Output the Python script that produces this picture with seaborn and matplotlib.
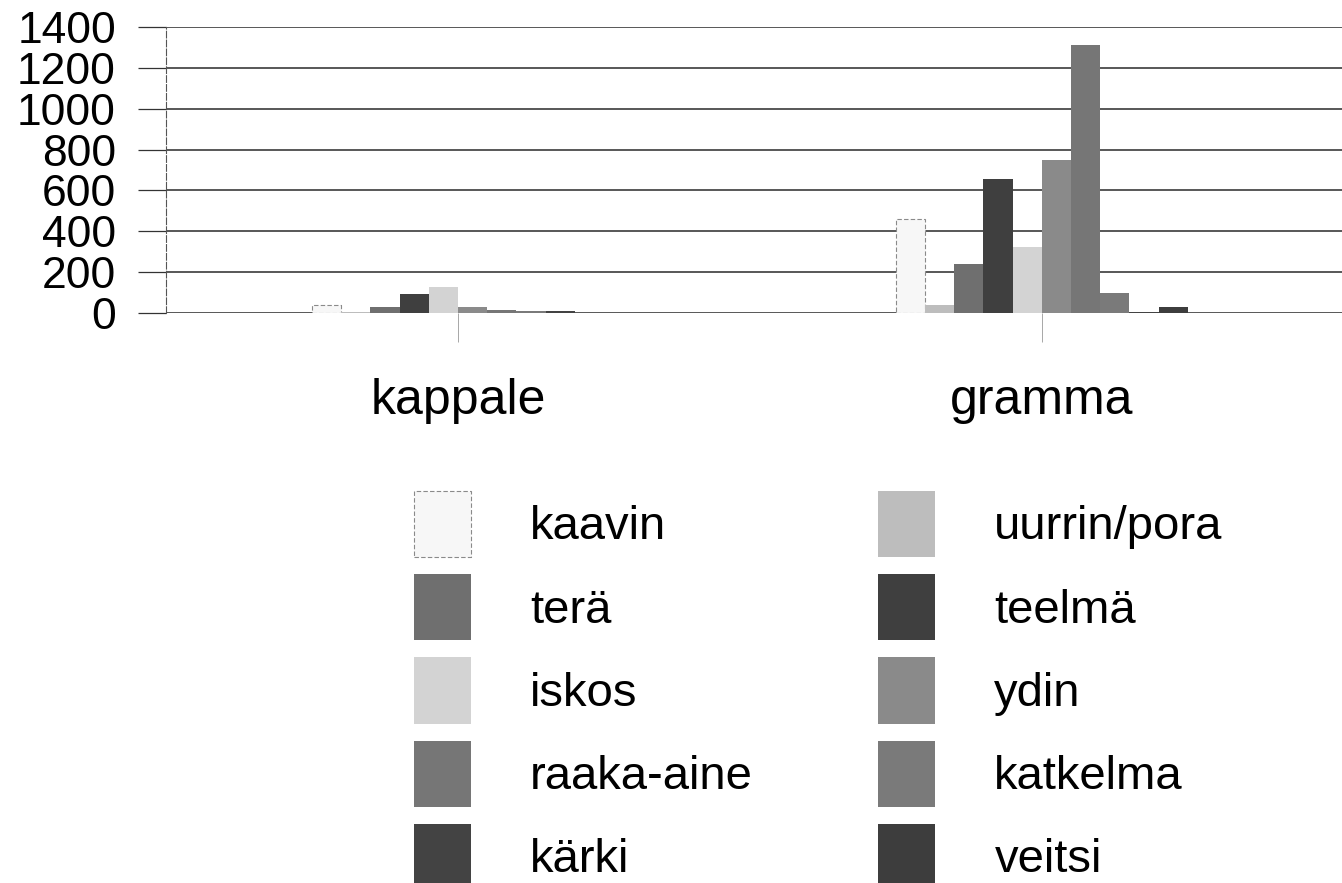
import numpy as np
import pandas as pd
import matplotlib
matplotlib.use("Agg")
import matplotlib.pyplot as plt
import seaborn as sns

# data
categories = ["kappale", "gramma"]
series = ["kaavin", "uurrin/pora", "terä", "teelmä", "iskos",
          "ydin", "raaka-aine", "katkelma", "kärki", "veitsi"]
kappale = [38, 5, 30, 95, 125, 28, 15, 10, 8, 2]
gramma = [460, 40, 240, 655, 325, 750, 1310, 100, 3, 30]
colors = ["#f7f7f7", "#bdbdbd", "#6f6f6f", "#3f3f3f", "#d3d3d3",
          "#8a8a8a", "#767676", "#7a7a7a", "#434343", "#3d3d3d"]
yticks = [0, 200, 400, 600, 800, 1000, 1200, 1400]

df = pd.DataFrame({
    "category": np.repeat(categories, len(series)),
    "series": series * len(categories),
    "value": kappale + gramma,
})

sns.set_style("white")
plt.rcParams["font.family"] = ["Liberation Sans", "DejaVu Sans"]
plt.rcParams["text.color"] = "black"
plt.rcParams["xtick.color"] = "black"
plt.rcParams["ytick.color"] = "black"

fig = plt.figure(figsize=(13.42, 8.83), dpi=100)
ax = fig.add_axes([166 / 1342, 1 - 313 / 883, 1 - 166 / 1342, (313 - 27) / 883])

sns.barplot(data=df, x="category", y="value", hue="series", hue_order=series,
            order=categories, palette=colors, width=0.5, gap=0, ax=ax,
            saturation=1, linewidth=0)

# white bar gets a thin grey outline like the original
for bar in ax.containers[0]:
    bar.set_edgecolor("#8a8a8a")
    bar.set_linewidth(0.8)
    bar.set_linestyle((0, (4, 2)))

ax.set_xlim(-0.5, 1.514)
ax.set_ylim(0, 1400)
ax.set_yticks(yticks)
ax.set_yticklabels([str(t) for t in yticks], fontsize=32)
ax.tick_params(axis="y", left=True, direction="out", length=20, width=0.9,
               color="#333", labelcolor="black", pad=16)
ax.tick_params(axis="x", bottom=True, direction="out", length=21, width=0.6,
               color="#999", labelcolor="black", labelsize=36, pad=26)
ax.set_xlabel("")
ax.set_ylabel("")

ax.yaxis.grid(True, color="#2a2a2a", linewidth=1.1)
ax.set_axisbelow(True)
for side in ["top", "right", "bottom"]:
    ax.spines[side].set_visible(False)
ax.spines["left"].set_color("#555555")
ax.spines["left"].set_linewidth(0.8)
ax.spines["left"].set_linestyle((0, (6, 2)))

# legend: two columns, first column holds every other series
handles, labels = ax.get_legend_handles_labels()
ax.get_legend().remove()
handles[0].set_edgecolor("#8a8a8a")
handles[0].set_linewidth(0.8)
handles[0].set_linestyle((0, (4, 2)))
idx = [0, 2, 4, 6, 8, 1, 3, 5, 7, 9]
leg = fig.legend([handles[i] for i in idx], [labels[i] for i in idx], ncol=2,
                 loc="upper left", bbox_to_anchor=(414 / 1342, 1 - 491 / 883),
                 frameon=False, fontsize=34, handlelength=1.21, handleheight=1.78,
                 handletextpad=1.25, columnspacing=2.65, labelspacing=0.36,
                 borderpad=0, borderaxespad=0)
for t in leg.get_texts():
    t.set_color("black")

fig.savefig("out.png", dpi=100)
